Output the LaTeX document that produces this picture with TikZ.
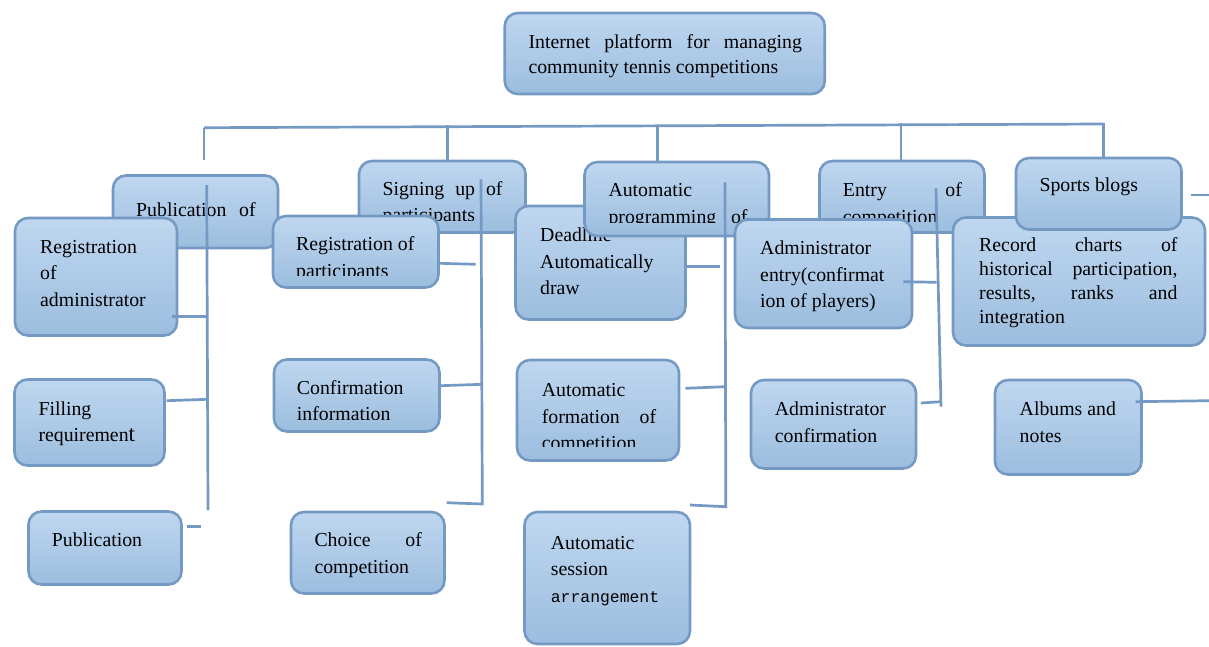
\documentclass[tikz,border=0pt]{standalone}
\usepackage{fontspec}
\setmainfont{Liberation Serif}
\setmonofont{Liberation Mono}
\definecolor{boxline}{RGB}{116,154,196}
\definecolor{boxtop}{RGB}{191,215,240}
\definecolor{boxbot}{RGB}{156,189,222}
\tikzset{
  blk/.style={draw=boxline, line width=2.6pt, rounded corners=13pt,
    top color=boxtop, bottom color=boxbot, inner sep=0pt, outer sep=0pt},
  lbl/.style={anchor=north west, inner sep=0pt, align=flush left,
    font=\fontsize{19.8}{26.5}\selectfont},
  link/.style={draw=boxline, line width=2.7pt}
}
\begin{document}
\begin{tikzpicture}[x=1pt,y=-1pt]
\useasboundingbox (0,0) rectangle (1209,646);

\node[blk, minimum width=320pt, minimum height=81pt] (top) at (664.75,53.5) {};
\node[lbl, font=\fontsize{19.8}{25}\selectfont, text width=273.5pt] (top-t) at (528.3,30.8)
  {\strut Internet\hfill platform\hfill for\hfill managing\\community tennis competitions};

\node[blk, minimum width=165pt, minimum height=72.5pt] (pubof) at (195.5,211.75) {};
\node[lbl, text width=119.5pt] (pubof-t) at (136,198.15) {\strut Publication\hfill of};

\node[blk, minimum width=162pt, minimum height=117.5pt] (regadm) at (96,276.75) {};
\node[lbl, text width=130pt] (regadm-t) at (40,234.45) {\strut Registration\\of\\administrator};

\node[blk, minimum width=166.5pt, minimum height=71.5pt] (signup) at (442.25,196.75) {};
\begin{scope}
  \clip (0,0) rectangle (1209,220.5);
  \node[lbl, text width=119.8pt] (signup-t) at (382.5,176.45) {\strut Signing\hfill up\hfill of\\participants};
\end{scope}

\node[blk, minimum width=165.5pt, minimum height=71.5pt] (regpart) at (355.75,251.75) {};
\begin{scope}
  \clip (0,0) rectangle (1209,275);
  \node[lbl, text width=135pt] (regpart-t) at (296,232.15) {\strut Registration of\\participants};
\end{scope}

\node[blk, minimum width=170pt, minimum height=113.5pt] (deadline) at (600.5,262.75) {};
\node[lbl, text width=135pt] (deadline-t) at (540,223.15) {\strut Deadline\\Automatically\\draw};

\node[blk, minimum width=184.5pt, minimum height=74pt] (autoprog) at (676.75,199) {};
\begin{scope}
  \clip (0,0) rectangle (1209,222);
  \node[lbl, text width=139pt] (autoprog-t) at (608.3,178.15) {\strut Automatic\\programming\hfill of};
\end{scope}

\node[blk, minimum width=165pt, minimum height=71.5pt] (entry) at (902,196.75) {};
\begin{scope}
  \clip (0,0) rectangle (1209,221.5);
  \node[lbl, text width=119pt] (entry-t) at (842.7,178.15) {\strut Entry\hfill of\\competition};
\end{scope}

\node[blk, minimum width=177pt, minimum height=108.5pt] (adment) at (823.5,273.75) {};
\node[lbl, text width=140pt] (adment-t) at (760,235.75) {\strut Administrator\\entry(confirmat\\ion of players)};

\node[blk, minimum width=252pt, minimum height=128pt] (record) at (1079,281.5) {};
\node[lbl, font=\fontsize{19.8}{23.9}\selectfont, text width=198.3pt] (record-t) at (979,234.97)
  {\strut Record\hfill charts\hfill of\\historical\hfill participation,\\results,\hfill ranks\hfill and\\integration};

\node[blk, minimum width=165.5pt, minimum height=71.5pt] (sports) at (1098.75,193.75) {};
\node[lbl, text width=120pt] (sports-t) at (1039.3,173.15) {\strut Sports blogs};

\node[blk, minimum width=150pt, minimum height=86pt] (filling) at (89.5,422.5) {};
\node[lbl, text width=120pt] (filling-t) at (38.3,396.45) {\strut Filling\\requiremen{\fontsize{23}{26.5}\selectfont t}};

\node[blk, minimum width=153pt, minimum height=73pt] (publ) at (105,548) {};
\node[lbl, text width=120pt] (publ-t) at (51.7,528.15) {\strut Publication};

\node[blk, minimum width=165.5pt, minimum height=72pt] (confirm) at (356.75,395.5) {};
\begin{scope}
  \clip (0,0) rectangle (1209,419);
  \node[lbl, text width=130pt] (confirm-t) at (296.7,375.45) {\strut Confirmation\\information};
\end{scope}

\node[blk, minimum width=153.5pt, minimum height=81.5pt] (choice) at (367.75,552.75) {};
\node[lbl, text width=107.4pt] (choice-t) at (314.3,528.15) {\strut Choice\hfill of\\competition};

\node[blk, minimum width=162pt, minimum height=100.5pt] (autoform) at (598,410.25) {};
\begin{scope}
  \clip (0,0) rectangle (1209,446.5);
  \node[lbl, text width=114.4pt] (autoform-t) at (541.6,378.15) {\strut Automatic\\formation\hfill of\\competition};
\end{scope}

\node[blk, minimum width=165.5pt, minimum height=132pt] (session) at (607.25,578) {};
\node[lbl, text width=130pt] (session-t) at (550.7,530.45)
  {\strut Automatic\\session\\{\ttfamily\fontsize{16.4}{26.5}\selectfont arrangement}};

\node[blk, minimum width=165pt, minimum height=88.5pt] (admconf) at (833.5,424.25) {};
\node[lbl, text width=130pt] (admconf-t) at (774.7,397.15) {\strut Administrator\\confirmation};

\node[blk, minimum width=146.5pt, minimum height=94.5pt] (albums) at (1068.25,427.25) {};
\node[lbl, text width=110pt] (albums-t) at (1019.5,397.15) {\strut Albums and\\notes};

\coordinate (busL) at (204,127.7);
\coordinate (busR) at (1103.3,124);
\coordinate (dropA) at (204,160);
\coordinate (busB) at (447.7,125);
\coordinate (busC) at (657.7,126.7);
\coordinate (busD) at (901,122.7);
\coordinate (busE) at (1103.3,122.7);
\draw[link] (busL) -- (busR);
\draw[link] (busL) -- (dropA);
\draw[link] (busB) -- (busB |- signup.north);
\draw[link] (busC) -- (busC |- autoprog.north);
\draw[link] (busD) -- (busD |- entry.north);
\draw[link] (busE) -- (busE |- sports.north);

\coordinate (pubTop) at (206.7,185);
\coordinate (pubEnd) at (208,510);
\coordinate (regadmR) at (171.7,316.7);
\coordinate (regadmJ) at (206.8,316.7);
\coordinate (fillR) at (166.7,400.7);
\coordinate (fillJ) at (207,399.3);
\coordinate (publR) at (187.3,526.7);
\coordinate (publJ) at (200.7,526.7);
\draw[link] (pubTop) -- (pubEnd);
\draw[link] (regadmR) -- (regadmJ);
\draw[link] (fillR) -- (fillJ);
\draw[link] (publR) -- (publJ);

\coordinate (signTop) at (481,179.3);
\coordinate (signEnd) at (482.3,504);
\coordinate (regpartR) at (440,263.3);
\coordinate (regpartJ) at (475.7,264.3);
\coordinate (confR) at (440.7,385.7);
\coordinate (confJ) at (481.7,384.3);
\coordinate (choiceR) at (446.7,502.7);
\draw[link] (choiceR) -- (signEnd) -- (signTop);
\draw[link] (regpartR) -- (regpartJ);
\draw[link] (confR) -- (confJ);

\coordinate (progTop) at (725,182.3);
\coordinate (progEnd) at (725.8,506.7);
\coordinate (deadR) at (685,266.7);
\coordinate (deadJ) at (720,266.7);
\coordinate (formR) at (685.5,388.3);
\coordinate (formJ) at (725,386.7);
\coordinate (sessR) at (690,505);
\draw[link] (sessR) -- (progEnd) -- (progTop);
\draw[link] (deadR) -- (deadJ);
\draw[link] (formR) -- (formJ);

\coordinate (entryTop) at (936,188.3);
\coordinate (entryEnd) at (941,406.7);
\coordinate (admentR) at (903.3,281.7);
\coordinate (admentJ) at (936.7,282.3);
\coordinate (admconfR) at (920.8,403);
\coordinate (admconfJ) at (940.5,401.7);
\draw[link] (entryTop) -- (entryEnd);
\draw[link] (admentR) -- (admentJ);
\draw[link] (admconfR) -- (admconfJ);

\coordinate (sportsR) at (1190.7,195);
\coordinate (sportsJ) at (1209,195);
\coordinate (albumR) at (1135.7,401.7);
\coordinate (albumJ) at (1209,400.7);
\draw[link] (sportsR) -- (sportsJ);
\draw[link] (albumR) -- (albumJ);
\end{tikzpicture}
\end{document}
